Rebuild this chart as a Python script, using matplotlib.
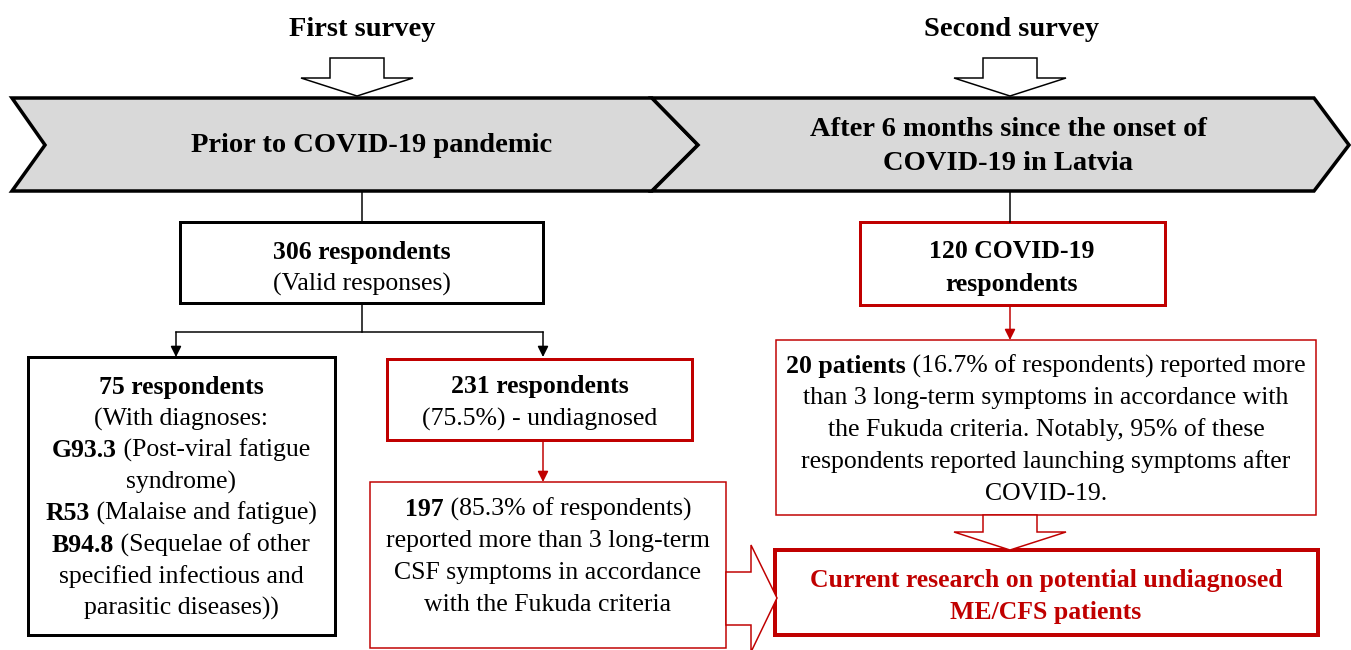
import matplotlib
matplotlib.use("Agg")
import matplotlib.pyplot as plt
from matplotlib.patches import Polygon, Rectangle

RED = "#c00000"
GREY = "#d9d9d9"
FONT = "Liberation Serif"

# texts of the flow chart; each line is a list of (text, bold) pieces
survey_titles = ["First survey", "Second survey"]
phase_left = ["Prior to COVID-19 pandemic"]
phase_right = ["After 6 months since the onset of", "COVID-19 in Latvia"]

box_306 = [[("306 respondents", True)], [("(Valid responses)", False)]]
box_75 = [[("75 respondents", True)],
          [("(With diagnoses:", False)],
          [("G93.3", True), (" (Post-viral fatigue", False)],
          [("syndrome)", False)],
          [("R53", True), (" (Malaise and fatigue)", False)],
          [("B94.8", True), (" (Sequelae of other", False)],
          [("specified infectious and", False)],
          [("parasitic diseases))", False)]]
box_231 = [[("231 respondents", True)], [("(75.5%) - undiagnosed", False)]]
box_197 = [[("197", True), (" (85.3% of respondents)", False)],
           [("reported more than 3 long-term", False)],
           [("CSF symptoms in accordance", False)],
           [("with the Fukuda criteria", False)]]
box_120 = [[("120 COVID-19", True)], [("respondents", True)]]
box_20 = [[("20 patients", True), (" (16.7% of respondents) reported more", False)],
          [("than 3 long-term symptoms in accordance with", False)],
          [("the Fukuda criteria. Notably, 95% of these", False)],
          [("respondents reported launching symptoms after", False)],
          [("COVID-19.", False)]]
box_final = [[("Current research on potential undiagnosed", True)],
             [("ME/CFS patients", True)]]

fig = plt.figure(figsize=(13.51, 6.5), dpi=100)
ax = fig.add_axes([0, 0, 1, 1])
ax.set_xlim(0, 1351)
ax.set_ylim(650, 0)
ax.axis("off")
renderer = fig.canvas.get_renderer()

PX = 72 / 100  # points per pixel


def text_line(xc, y, pieces, size=18.5, color="black"):
    objs = []
    for s, bold in pieces:
        t = ax.text(0, y, s, fontsize=size, family=FONT, color=color,
                    fontweight="bold" if bold else "normal",
                    ha="left", va="center")
        objs.append(t)
    widths = [t.get_window_extent(renderer).width for t in objs]
    x = xc - sum(widths) / 2
    for t, w in zip(objs, widths):
        t.set_x(x)
        x += w


def text_block(xc, yc, lines, step=32, **kw):
    y0 = yc - step * (len(lines) - 1) / 2
    for i, ln in enumerate(lines):
        text_line(xc, y0 + i * step, ln, **kw)


def box(x0, y0, x1, y1, color="black", lw=3):
    ax.add_patch(Rectangle((x0, y0), x1 - x0, y1 - y0, fill=False,
                           edgecolor=color, linewidth=lw * PX))


def arrow(x, y0, y1, color="black"):
    ax.annotate("", xy=(x, y1), xytext=(x, y0),
                arrowprops=dict(arrowstyle="-|>", color=color, lw=1.5 * PX,
                                mutation_scale=16, shrinkA=0, shrinkB=0))


def hollow_down(xc, ytop, yneck, ytip, shaft=27, head=56, color="black", lw=1.5):
    pts = [(xc - shaft, ytop), (xc + shaft, ytop), (xc + shaft, yneck),
           (xc + head, yneck), (xc, ytip), (xc - head, yneck),
           (xc - shaft, yneck)]
    ax.add_patch(Polygon(pts, closed=True, facecolor="white",
                         edgecolor=color, linewidth=lw * PX, zorder=3))


# chevrons
left_chev = [(12, 98), (652, 98), (698, 145), (652, 191), (12, 191), (45, 145)]
right_chev = [(652, 98), (1314, 98), (1349, 145), (1314, 191), (652, 191), (698, 145)]
for pts in (left_chev, right_chev):
    ax.add_patch(Polygon(pts, closed=True, facecolor=GREY, edgecolor="black",
                         linewidth=3.5 * PX, joinstyle="miter"))

ax.text(362, 30, survey_titles[0], fontsize=20.5, family=FONT, fontweight="bold",
        ha="center", va="center")
ax.text(1012, 30, survey_titles[1], fontsize=20.5, family=FONT, fontweight="bold",
        ha="center", va="center")
hollow_down(357, 58, 78, 96)
hollow_down(1010, 58, 78, 96)

text_block(372, 146, [[(s, True)] for s in phase_left], size=20.5)
text_block(1008, 147, [[(s, True)] for s in phase_right], step=34, size=20.5)

# left branch
ax.plot([362, 362], [191, 222], color="black", lw=1.5 * PX)
box(180, 222, 543, 303)
text_block(362, 268, box_306)
ax.plot([362, 362], [303, 332], color="black", lw=1.5 * PX)
ax.plot([176, 543], [332, 332], color="black", lw=1.5 * PX)
arrow(176, 332, 357)
arrow(543, 332, 357)

box(28, 357, 335, 635)
text_block(181, 498, box_75, step=31.5)
box(387, 359, 692, 440, color=RED)
text_block(540, 403, box_231)
arrow(543, 440, 482, color=RED)
box(370, 482, 726, 648, color=RED, lw=1.5)
text_block(548, 557, box_197)

# big hollow arrow from the 197 box to the final box
side = [(726, 572), (751, 572), (751, 545), (777, 598), (751, 652),
        (751, 625), (726, 625)]
ax.add_patch(Polygon(side, closed=True, facecolor="white", edgecolor=RED,
                     linewidth=1.5 * PX, zorder=3))

# right branch
ax.plot([1010, 1010], [191, 222], color="black", lw=1.5 * PX)
box(860, 222, 1165, 305, color=RED)
text_block(1012, 268, box_120)
arrow(1010, 305, 340, color=RED)
box(776, 340, 1316, 515, color=RED, lw=1.5)
text_block(1046, 430, box_20)
hollow_down(1010, 515, 532, 550, color=RED)
box(775, 550, 1318, 635, color=RED, lw=4)
text_block(1046, 597, box_final, color=RED)

fig.savefig("out.png", dpi=100)
